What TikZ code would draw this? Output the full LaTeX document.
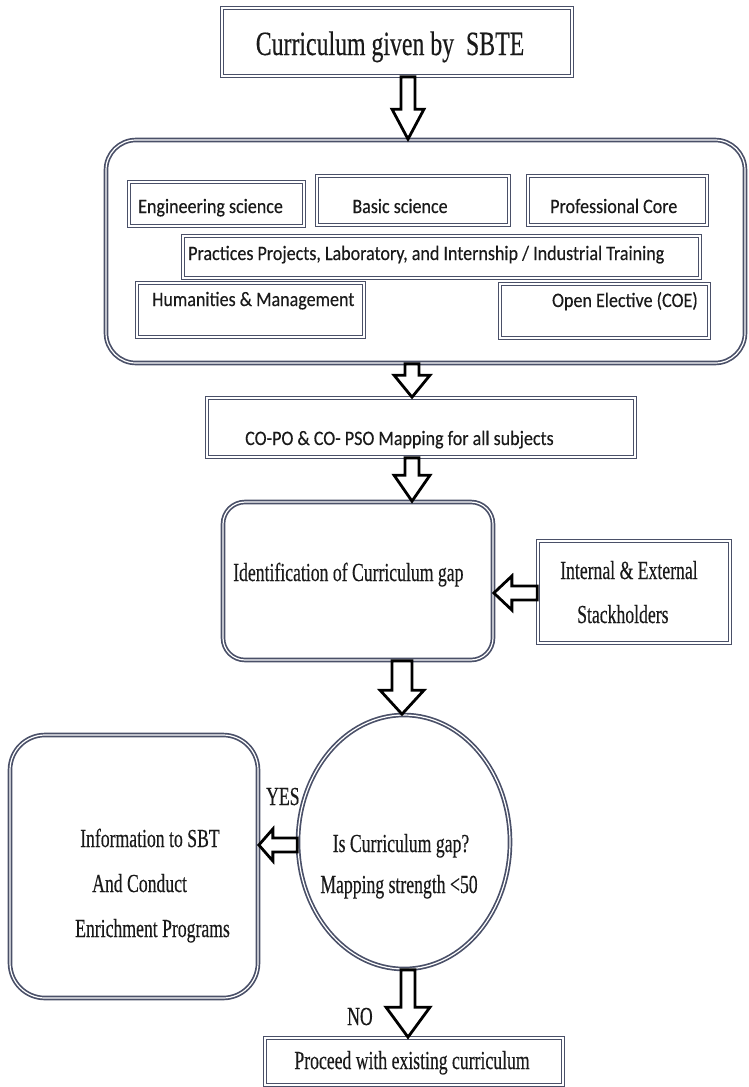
\documentclass[tikz,border=0pt]{standalone}
\usepackage{fontspec}
\setmainfont{Liberation Serif}
\newfontfamily\tnrfont[FakeStretch=0.68,FakeBold=0.3]{Liberation Serif}
\newfontfamily\tnrwide[FakeStretch=0.70,FakeBold=0.3]{Liberation Serif}
\newfontfamily\calfont[FakeStretch=0.88,FakeBold=0.3]{Carlito}
\usetikzlibrary{shapes.geometric,calc}
\definecolor{slate}{HTML}{4A5068}
\definecolor{ink}{HTML}{1A1A1A}

\tikzset{
  frame/.style={draw=slate, line width=1.7pt, double=white, double distance=1.2pt,
                fill=white, inner sep=0pt},
  sqbox/.style={frame, rectangle},
  rbox/.style={frame, rectangle, rounded corners=#1},
  oval/.style={frame, ellipse},
  blockarrow/.style={draw=black, line width=2.8pt, fill=white, line join=miter},
  tnr/.style={inner sep=0pt, text=ink, font=\tnrfont\fontsize{26}{30}\selectfont},
  tnrbig/.style={inner sep=0pt, text=ink, font=\tnrwide\fontsize{34}{40}\selectfont},
  cal/.style={inner sep=0pt, text=ink, font=\calfont\fontsize{20.5}{24}\selectfont},
}

% vertical block arrow: tail anchor, tip anchor, x, shaft half-width, head half-width, head length
\newcommand\downblk[6]{%
  \draw[blockarrow] let \p1=(#1), \p2=(#2), \p3=(#3,0) in
    (\x3-#4pt,\y1) -- (\x3-#4pt,\y2+#6pt) -- (\x3-#5pt,\y2+#6pt) -- (\x3,\y2)
    -- (\x3+#5pt,\y2+#6pt) -- (\x3+#4pt,\y2+#6pt) -- (\x3+#4pt,\y1) -- cycle;}
% leftward block arrow: tail anchor, tip anchor, y, shaft half-width, head half-width, head length
\newcommand\leftblk[6]{%
  \draw[blockarrow] let \p1=(#1), \p2=(#2), \p3=(0,#3) in
    (\x1,\y3+#4pt) -- (\x2+#6pt,\y3+#4pt) -- (\x2+#6pt,\y3+#5pt) -- (\x2,\y3)
    -- (\x2+#6pt,\y3-#5pt) -- (\x2+#6pt,\y3-#4pt) -- (\x1,\y3-#4pt) -- cycle;}

\begin{document}
\begin{tikzpicture}[x=1pt, y=-1pt]
\fill[white] (0,0) rectangle (749,1087);
\useasboundingbox (0,0) rectangle (749,1087);

% source of the curriculum
\node[sqbox, minimum width=350pt, minimum height=68pt] (sbte) at (397,42) {};
\node[tnrbig, anchor=base] (sbtetxt) at (390,55) {Curriculum given by\ \ SBTE};

% curriculum components
\node[rbox=30pt, minimum width=639pt, minimum height=223pt] (comp) at (425.5,251.5) {};
\node[sqbox, minimum width=175pt, minimum height=44pt] (eng) at (216.5,204) {};
\node[cal, anchor=base west] (engtxt) at (138,213) {Engineering science};
\node[sqbox, minimum width=192pt, minimum height=49pt] (bsc) at (413,200.5) {};
\node[cal, anchor=base] (bsctxt) at (400,213) {Basic science};
\node[sqbox, minimum width=179pt, minimum height=49pt] (core) at (617.5,200.5) {};
\node[cal, anchor=base west] (coretxt) at (550,213) {Professional Core};
\node[sqbox, minimum width=517pt, minimum height=42pt] (prac) at (441.5,257) {};
\node[cal, anchor=base west] (practxt) at (188,260) {Practices Projects, Laboratory, and Internship / Industrial Training};
\node[sqbox, minimum width=227pt, minimum height=54pt] (hum) at (250.5,310) {};
\node[cal, anchor=base west] (humtxt) at (152,306) {Humanities \& Management};
\node[sqbox, minimum width=209pt, minimum height=54pt] (oe) at (604.5,311) {};
\node[cal, anchor=base east] (oetxt) at (698,307) {Open Elective (COE)};

% mapping
\node[sqbox, minimum width=428pt, minimum height=59pt] (copo) at (421,427.5) {};
\node[cal, anchor=base west] (copotxt) at (245,445) {CO-PO \& CO- PSO Mapping for all subjects};

% gap identification and stakeholders
\node[rbox=22pt, minimum width=270pt, minimum height=158pt] (gap) at (358,581) {};
\node[tnr, anchor=base west] (gaptxt) at (233,581) {Identification of Curriculum gap};
\node[sqbox, minimum width=192pt, minimum height=102pt] (stake) at (634,592) {};
\node[tnr, anchor=base west] (staketxt1) at (560,579) {Internal \& External};
\node[tnr, anchor=base west] (staketxt2) at (577,623) {Stackholders};

% decision
\node[oval, minimum width=212pt, minimum height=254pt] (dec) at (404,842) {};
\node[tnr, anchor=base] (dectxt1) at (401,852) {Is Curriculum gap?};
\node[tnr, anchor=base] (dectxt2) at (399,893) {Mapping strength <50};

% yes branch
\node[rbox=35pt, minimum width=248pt, minimum height=263pt] (info) at (134,866.5) {};
\node[tnr, anchor=base west] (infotxt1) at (80,847) {Information to SBT};
\node[tnr, anchor=base west] (infotxt2) at (92,892) {And Conduct};
\node[tnr, anchor=base west] (infotxt3) at (75,937) {Enrichment Programs};
\node[tnr, anchor=base west] (yes) at (266,805) {YES};

% no branch
\node[sqbox, minimum width=298pt, minimum height=47pt] (proc) at (414,1061.5) {};
\node[tnr, anchor=base] (proctxt) at (412,1069) {Proceed with existing curriculum};
\node[tnr, anchor=base west] (no) at (347,1025) {NO};

% flow arrows
\downblk{sbte.south}{comp.north}{408}{7}{16}{30}
\downblk{comp.south}{copo.north}{412}{7}{18}{22}
\downblk{copo.south}{gap.north}{412}{7}{18}{26}
\leftblk{stake.west}{gap.east}{593}{7}{17}{18}
\downblk{gap.south}{dec.north}{402}{10}{22}{24}
\leftblk{dec.west}{info.east}{845}{7}{16}{14}
\downblk{dec.south}{proc.north}{408}{7}{22}{30}
\end{tikzpicture}
\end{document}
